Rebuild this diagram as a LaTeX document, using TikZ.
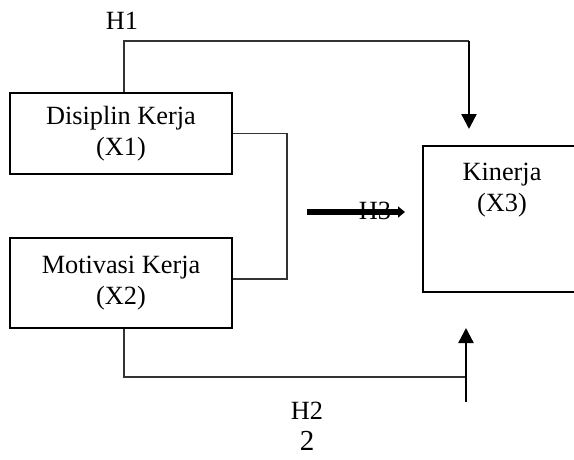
\documentclass[tikz,border=0pt]{standalone}
\usepackage{fontspec}
\setmainfont{Liberation Serif}
\usetikzlibrary{arrows.meta,calc}
\begin{document}
\begin{tikzpicture}[x=1pt,y=-1pt,
  every node/.style={font=\fontsize{26.3}{31.5}\selectfont, inner sep=0pt},
  varbox/.style={draw=black, line width=2.6pt, align=center},
  conn/.style={draw=black!80, line width=1.3pt},
  arr/.style={draw=black, line width=2.4pt, -{Triangle[length=15pt,width=15pt]}},
  fatarr/.style={draw=black, line width=6.5pt, -{Triangle[length=7pt,width=11pt]}},
  lbl/.style={text=black}]
\useasboundingbox (0,0) rectangle (574,459);
\clip (0,0) rectangle (574,459);
% boxes
\node[varbox, minimum width=222pt, minimum height=81pt] (x1) at (121,133.5) {Disiplin Kerja\\(X1)};
\node[varbox, minimum width=222pt, minimum height=90pt] (x2) at (121,283) {Motivasi Kerja\\(X2)};
\node[varbox, minimum width=170pt, minimum height=146pt] (x3) at (508,219) {};
\node[lbl, align=center] (x3t) at (502,190) {Kinerja\\(X3)};
% labels
\node[lbl] (h1) at (122,21) {H1};
\node[lbl] (h2) at (307,411) {H2};
\node[lbl, font=\fontsize{29}{34}\selectfont] (n2) at (307,441) {2};
\node[lbl] (h3) at (375,211) {H3};
% coordinates
\coordinate (p1) at (124,41);
\coordinate (p2) at (469,41);
\coordinate (t1) at (469,129);
\coordinate (q1) at (124,377);
\coordinate (q2) at (466,402);
\coordinate (t2) at (466,328);
\coordinate (br) at (287,279);
\coordinate (h3s) at (307,212);
\coordinate (h3e) at (405,212);
% H1
\draw[conn] (x1.north -| p1) -- (p1) -- (p2);
\draw[arr] (p2) -- (t1);
% H2
\draw[conn] (x2.south -| q1) -- (q1) -- (q1 -| q2);
\draw[arr] (q2) -- (t2);
% bracket
\draw[conn] (x1.east) -| (br) -- (br -| x2.east);
% H3
\draw[fatarr] (h3s) -- (h3e);
\end{tikzpicture}
\end{document}
